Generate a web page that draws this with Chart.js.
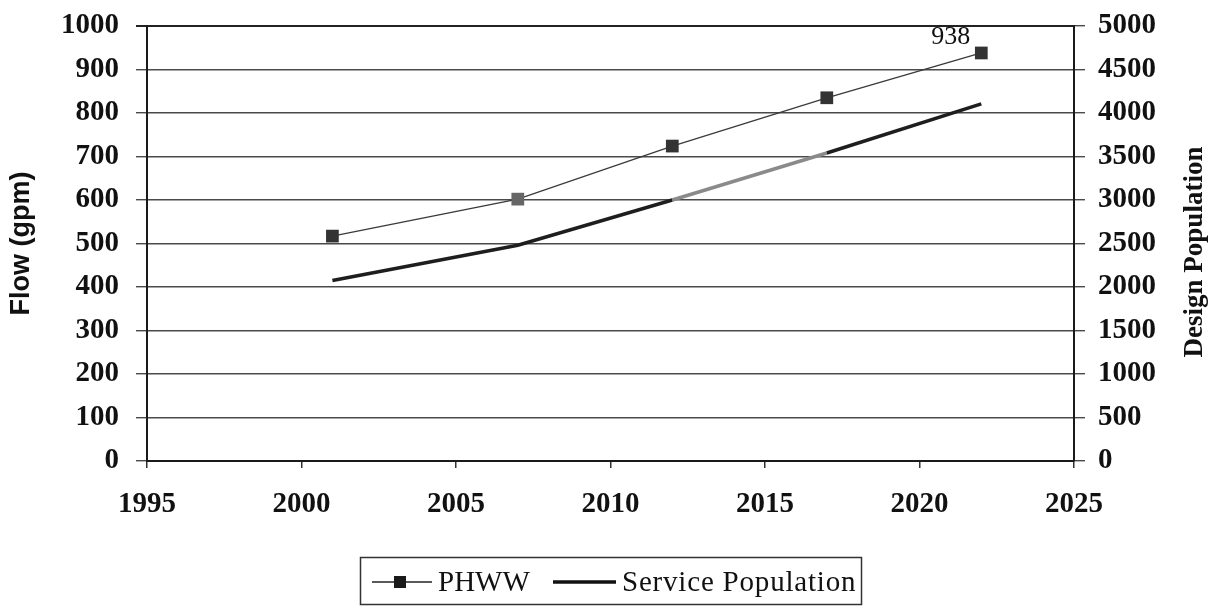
<!DOCTYPE html>
<html>
<head>
<meta charset="utf-8">
<script src="https://cdn.jsdelivr.net/npm/chart.js@4.4.1/dist/chart.umd.min.js"></script>
<style>
  html, body { margin: 0; padding: 0; background: #ffffff; }
  #wrap { width: 1214px; height: 612px; }
</style>
</head>
<body>
<div id="wrap"><canvas id="c" width="1214" height="612"></canvas></div>
<script>
// Planning years and projected values
const years = [2001, 2007, 2012, 2017, 2022];
const phwwFlow = [517, 602, 724, 835, 938];               // gpm
const servicePopulation = [2075, 2480, 3000, 3540, 4105]; // persons
const yearTicks = [1995, 2000, 2005, 2010, 2015, 2020, 2025];
const flowTicks = [0, 100, 200, 300, 400, 500, 600, 700, 800, 900, 1000];
const popTicks = [0, 500, 1000, 1500, 2000, 2500, 3000, 3500, 4000, 4500, 5000];
const labelledValue = 938;

const SERIF = "'Liberation Serif', 'Times New Roman', serif";
const SANS = "'Liberation Sans', Arial, sans-serif";
const INK = '#111111';

const toPoints = (xs, ys) => xs.map((x, i) => ({ x: x, y: ys[i] }));
const plain = (v) => String(v);

// Axis title on the right, reading bottom-to-top
const rightTitle = {
  id: 'rightTitle',
  afterDraw(chart) {
    const ctx = chart.ctx;
    ctx.save();
    ctx.translate(1195, 252);
    ctx.rotate(-Math.PI / 2);
    ctx.font = "bold 27px " + SERIF;
    ctx.fillStyle = INK;
    ctx.textAlign = 'center';
    ctx.textBaseline = 'middle';
    ctx.fillText('Design Population', 0, 0);
    ctx.restore();
  }
};

// Value label beside the last PHWW point
const valueLabel = {
  id: 'valueLabel',
  afterDatasetsDraw(chart) {
    const meta = chart.getDatasetMeta(0);
    const idx = phwwFlow.indexOf(labelledValue);
    const pt = meta.data[idx];
    if (!pt) return;
    const ctx = chart.ctx;
    ctx.save();
    ctx.font = "26px " + SERIF;
    ctx.fillStyle = INK;
    ctx.textAlign = 'right';
    ctx.textBaseline = 'alphabetic';
    ctx.fillText(String(labelledValue), pt.x - 11, pt.y - 9);
    ctx.restore();
  }
};

// Boxed legend under the plot
const boxLegend = {
  id: 'boxLegend',
  afterDraw(chart) {
    const ctx = chart.ctx;
    const cy = 582;
    ctx.save();
    ctx.strokeStyle = '#333';
    ctx.lineWidth = 1.5;
    ctx.strokeRect(360.5, 557.5, 501, 47);

    // PHWW: thin line with square marker
    ctx.strokeStyle = '#222';
    ctx.lineWidth = 1.5;
    ctx.beginPath();
    ctx.moveTo(372, cy);
    ctx.lineTo(432, cy);
    ctx.stroke();
    ctx.fillStyle = '#1a1a1a';
    ctx.fillRect(394, cy - 6, 12, 12);

    ctx.font = "29px " + SERIF;
    ctx.fillStyle = INK;
    ctx.textBaseline = 'middle';
    ctx.textAlign = 'left';
    ctx.fillText(chart.data.datasets[0].label, 438, cy + 1);

    // Service Population: heavy line
    ctx.strokeStyle = '#111';
    ctx.lineWidth = 3.5;
    ctx.beginPath();
    ctx.moveTo(553, cy);
    ctx.lineTo(616, cy);
    ctx.stroke();

    ctx.letterSpacing = '0.8px';
    ctx.fillText(chart.data.datasets[1].label, 622, cy + 1);
    ctx.restore();
  }
};

const gridColor = (c) => (c.tick && c.tick.value === 1000 ? '#222' : '#4a4a4a');
const gridWidth = (c) => (c.tick && c.tick.value === 1000 ? 2 : 1.4);

new Chart(document.getElementById('c'), {
  type: 'line',
  data: {
    datasets: [
      {
        label: 'PHWW',
        data: toPoints(years, phwwFlow),
        yAxisID: 'y',
        borderColor: '#3a3a3a',
        borderWidth: 1.3,
        pointStyle: 'rect',
        pointRadius: 9,
        pointBackgroundColor: ['#333', '#666', '#333', '#333', '#333'],
        pointBorderWidth: 0,
        tension: 0
      },
      {
        label: 'Service Population',
        data: toPoints(years, servicePopulation),
        yAxisID: 'y2',
        borderColor: '#1e1e1e',
        borderWidth: 3.5,
        pointRadius: 0,
        tension: 0,
        segment: {
          borderColor: (s) => (s.p0DataIndex === 2 ? '#8a8a8a' : '#1e1e1e')
        }
      }
    ]
  },
  options: {
    responsive: false,
    animation: false,
    devicePixelRatio: 1,
    layout: { padding: { top: 26, left: 0, right: 0, bottom: 0 } },
    plugins: {
      legend: { display: false },
      tooltip: { enabled: false }
    },
    scales: {
      x: {
        type: 'linear',
        position: 'bottom',
        min: yearTicks[0],
        max: yearTicks[yearTicks.length - 1],
        afterBuildTicks: (s) => { s.ticks = yearTicks.map(v => ({ value: v })); },
        afterFit: (s) => { s.height = 151; s.paddingLeft = 0; s.paddingRight = 0; },
        ticks: {
          font: { family: SERIF, size: 29, weight: 'bold' },
          color: INK,
          padding: 19,
          maxRotation: 0,
          callback: plain
        },
        grid: { drawOnChartArea: false, drawTicks: true, tickLength: 7, color: '#333', lineWidth: 1.5 },
        border: { display: true, color: '#1a1a1a', width: 2 }
      },
      y: {
        position: 'left',
        min: flowTicks[0],
        max: flowTicks[flowTicks.length - 1],
        afterBuildTicks: (s) => { s.ticks = flowTicks.map(v => ({ value: v })); },
        afterFit: (s) => { s.width = 147; s.paddingTop = 0; s.paddingBottom = 0; },
        ticks: {
          font: { family: SERIF, size: 29, weight: 'bold' },
          color: INK,
          padding: 17,
          callback: plain
        },
        grid: { color: gridColor, lineWidth: gridWidth, tickLength: 11, drawTicks: true },
        border: { display: true, color: '#1a1a1a', width: 2 },
        title: {
          display: true,
          text: 'Flow (gpm)',
          font: { family: SANS, size: 27, weight: 'bold' },
          color: INK,
          padding: { top: 5, bottom: 0 }
        }
      },
      y2: {
        position: 'right',
        min: popTicks[0],
        max: popTicks[popTicks.length - 1],
        afterBuildTicks: (s) => { s.ticks = popTicks.map(v => ({ value: v })); },
        afterFit: (s) => { s.width = 140; s.paddingTop = 0; s.paddingBottom = 0; },
        ticks: {
          font: { family: SERIF, size: 29, weight: 'bold' },
          color: INK,
          padding: 13,
          callback: plain
        },
        grid: { drawOnChartArea: false, drawTicks: true, tickLength: 11, color: '#4a4a4a', lineWidth: 1.4 },
        border: { display: true, color: '#1a1a1a', width: 2 }
      }
    }
  },
  plugins: [rightTitle, valueLabel, boxLegend]
});
</script>
</body>
</html>
